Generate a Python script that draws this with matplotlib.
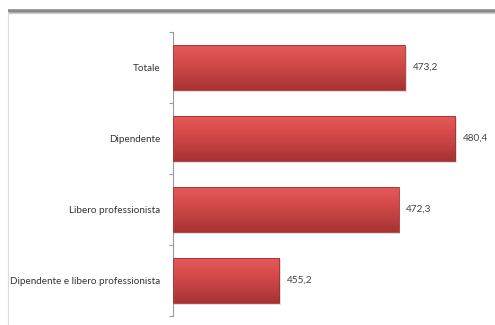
import numpy as np
import matplotlib.pyplot as plt
from matplotlib.lines import Line2D
from matplotlib.colors import LinearSegmentedColormap

categories = ["Totale", "Dipendente", "Libero professionista",
              "Dipendente e libero professionista"]
values = [473.2, 480.4, 472.3, 455.2]
value_labels = ["473,2", "480,4", "472,3", "455,2"]

plt.rcParams['font.family'] = ['Lato', 'DejaVu Sans']

fig = plt.figure(figsize=(4.95, 3.25), dpi=100)
fig.patch.set_facecolor("white")

# frame lines around the chart area
fig.add_artist(Line2D([8 / 495, 1], [1 - 11 / 325] * 2, transform=fig.transFigure,
                      color="#8a8a8a", lw=2.6, solid_capstyle="butt"))
fig.add_artist(Line2D([8 / 495, 1], [1 - 13 / 325] * 2, transform=fig.transFigure,
                      color="#d0d0d0", lw=1.0, solid_capstyle="butt"))
fig.add_artist(Line2D([8 / 495] * 2, [0, 1 - 12 / 325], transform=fig.transFigure,
                      color="#dcdcdc", lw=0.8))

ax = fig.add_axes([173 / 495, 1 - 316 / 325, 1 - 173 / 495, (316 - 32) / 325])
xmin, xmax = 440, 486.1

bar_h = 0.63
red = LinearSegmentedColormap.from_list("red", ["#e35959", "#d84b4b", "#c04040", "#a83232"])
grad = np.linspace(0, 1, 64).reshape(-1, 1)

for i, (v, lab) in enumerate(zip(values, value_labels)):
    top, bot = i - bar_h / 2, i + bar_h / 2
    # soft shadow
    ax.add_patch(plt.Rectangle((xmin, top + 0.03), v - xmin + 0.25, bar_h,
                               facecolor="#c8c8c8", edgecolor="none", alpha=0.6, zorder=1))
    ax.imshow(grad, cmap=red, aspect="auto", extent=(xmin, v, bot, top),
              zorder=2, interpolation="bilinear")
    ax.add_patch(plt.Rectangle((xmin, top), v - xmin, bar_h, facecolor="none",
                               edgecolor="#a33030", lw=0.6, zorder=3))
    ax.text(v + 1.1, i, lab, va="center", ha="left", fontsize=7.2, color="#404040")

ax.set_xlim(xmin, xmax)
ax.set_ylim(len(categories) - 0.5, -0.5)

ax.set_yticks(range(len(categories)))
ax.set_yticklabels(categories, fontsize=7.1, color="#333333")
ax.tick_params(axis="y", which="major", length=0, pad=9)
ax.set_yticks(np.arange(-0.5, len(categories), 1), minor=True)
ax.tick_params(axis="y", which="minor", length=3, color="#9a9a9a", width=0.8)
ax.set_xticks([])

for s in ["top", "right", "bottom"]:
    ax.spines[s].set_visible(False)
ax.spines["left"].set_color("#9a9a9a")
ax.spines["left"].set_linewidth(0.8)

fig.savefig("out.png", dpi=100)
